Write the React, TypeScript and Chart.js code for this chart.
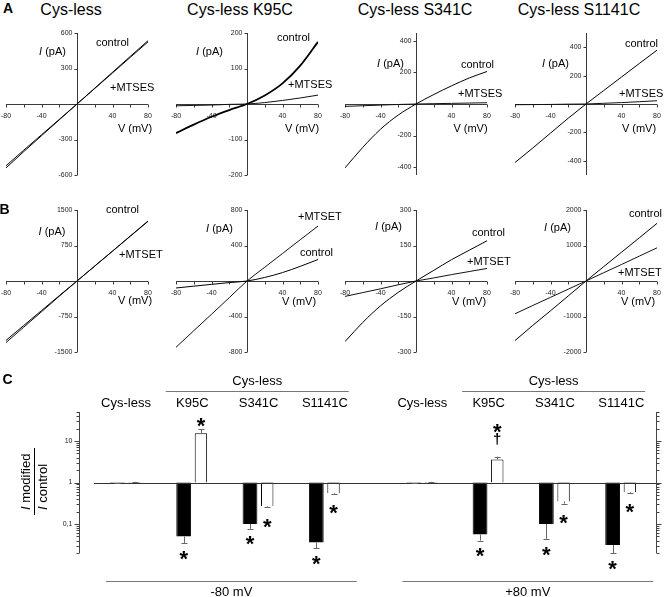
import React, { useEffect, useRef } from 'react';
import { Chart, registerables } from 'chart.js';

Chart.register(...registerables);

const SANS = "'Liberation Sans', Arial, Helvetica, sans-serif";
const NARROW = "'Liberation Sans Narrow', 'Arial Narrow', 'Liberation Sans', Arial, sans-serif";

// ---------------- I–V data (current in pA vs voltage in mV) ----------------
const voltages = [-80, -60, -40, -20, 0, 20, 40, 60, 80];
const voltageTickLabels = [-80, -40, 40, 80];
const panelTitles = ['Cys-less', 'Cys-less K95C', 'Cys-less S341C', 'Cys-less S1141C'];

// Row A: control vs +MTSES
const mtsesControlCysLess = [-540, -402, -268, -134, 0, 134, 268, 402, 535];
const mtsesCysLess = [-522, -390, -260, -130, 0, 131, 262, 394, 525];
const mtsesControlK95C = [-82, -58, -36, -17, 0, 24, 58, 108, 175];
const mtsesK95C = [-5, -4, -3, -1, 0, 4, 10, 17, 25];
const mtsesControlS341C = [-405, -275, -160, -70, 0, 60, 115, 165, 206];
const mtsesS341C = [-15, -11, -7, -3, 0, 2, 4, 6, 8];
const mtsesControlS1141C = [-412, -310, -205, -100, 0, 95, 190, 285, 379];
const mtsesS1141C = [-5, -4, -3, -1, 0, 5, 10, 16, 23];

// Row B: control vs +MTSET
const mtsetControlCysLess = [-1255, -940, -625, -310, 0, 315, 632, 950, 1267];
const mtsetCysLess = [-1300, -975, -650, -322, 0, 316, 630, 945, 1260];
const mtsetControlK95C = [-79, -58, -38, -18, 0, 40, 95, 165, 242];
const mtsetK95C = [-747, -560, -375, -188, 0, 155, 310, 465, 619];
const mtsetControlS341C = [-256, -175, -105, -48, 0, 45, 90, 130, 170];
const mtsetS341C = [-65, -49, -33, -16, 0, 13, 27, 40, 53];
const mtsetControlS1141C = [-1678, -1250, -840, -420, 0, 405, 810, 1215, 1624];
const mtsetS1141C = [-923, -690, -460, -230, 0, 235, 465, 700, 934];

const rangeA = [600, 200, 450, 500];
const ticksA = [[-600, -300, 300, 600], [-200, -100, 100, 200], [-400, -200, 200, 400], [-400, -200, 200, 400]];
const rangeB = [1500, 800, 300, 2000];
const ticksB = [[-1500, -750, 750, 1500], [-800, -400, 400, 800], [-300, -150, 150, 300], [-2000, -1000, 1000, 2000]];

// ---------------- Panel C data (I modified / I control) ----------------
const barConstructs = ['Cys-less', 'K95C', 'S341C', 'S1141C'];
const headerLabel = 'Cys-less';
const voltageGroups = ['-80 mV', '+80 mV'];
const mtsesNeg80 = [0.97, 0.05, 0.10, 0.036];
const mtsesNeg80Err = [0.96, 0.035, 0.077, 0.026];
const mtsetNeg80 = [1.03, 15.4, 0.27, 0.56];
const mtsetNeg80Err = [1.04, 19.2, 0.26, 0.54];
const mtsesPos80 = [0.97, 0.056, 0.10, 0.031];
const mtsesPos80Err = [0.96, 0.04, 0.044, 0.02];
const mtsetPos80 = [1.03, 3.6, 0.35, 0.59];
const mtsetPos80Err = [1.04, 4.2, 0.31, 0.57];
const mtsesNeg80Sig = ['', '*', '*', '*'];
const mtsetNeg80Sig = ['', '*', '*', '*'];
const mtsesPos80Sig = ['', '*', '*', '*'];
const mtsetPos80Sig = ['', '*†', '*', '*'];
const ratioTickValues = [0.1, 1, 10];
const ratioTickLabels = ['0,1', '1', '10'];

// ---------------- Layout ----------------
const PANEL_X0 = [77, 247, 416, 586];
const ROW_Y0 = [104, 281];
const HALF = 71;
const PAD = { left: 12, right: 6, top: 4, bottom: 18 };

const ivAxes = (yTicks: number[]) => ({
  id: 'ivAxes',
  beforeDatasetsDraw(chart: any) {
    const { ctx, scales } = chart;
    const x = scales.x, y = scales.y;
    const x0 = Math.round(x.getPixelForValue(0)) + 0.5;
    const y0 = Math.round(y.getPixelForValue(0)) + 0.5;
    ctx.save();
    ctx.strokeStyle = '#3a3a3a';
    ctx.lineWidth = 1;
    ctx.beginPath();
    ctx.moveTo(x0, y.top);
    ctx.lineTo(x0, y.bottom);
    ctx.moveTo(x.left, y0);
    ctx.lineTo(x.right, y0);
    voltages.forEach((v) => {
      if (v === 0) return;
      const px = Math.round(x.getPixelForValue(v)) + 0.5;
      ctx.moveTo(px, y0);
      ctx.lineTo(px, y0 + 3);
    });
    yTicks.forEach((t) => {
      const py = Math.round(y.getPixelForValue(t)) + 0.5;
      ctx.moveTo(x0 - 3, py);
      ctx.lineTo(x0, py);
    });
    ctx.stroke();
    ctx.fillStyle = '#222';
    ctx.font = `7px ${NARROW}`;
    ctx.textAlign = 'right';
    ctx.textBaseline = 'middle';
    yTicks.forEach((t) => ctx.fillText(String(t), x0 - 5, y.getPixelForValue(t)));
    ctx.textAlign = 'center';
    ctx.textBaseline = 'top';
    voltageTickLabels.forEach((t) => ctx.fillText(String(t), x.getPixelForValue(t), y0 + 8));
    ctx.restore();
  },
});

function IVPanel({ control, modified, range, ticks, x0, y0, controlWidth = 1 }: any) {
  const ref = useRef<HTMLCanvasElement>(null);
  useEffect(() => {
    const chart = new Chart(ref.current as HTMLCanvasElement, {
      type: 'line',
      data: {
        datasets: [
          {
            data: voltages.map((v, i) => ({ x: v, y: control[i] })),
            borderColor: '#000', borderWidth: controlWidth, pointRadius: 0,
            cubicInterpolationMode: 'monotone', fill: false,
          },
          {
            data: voltages.map((v, i) => ({ x: v, y: modified[i] })),
            borderColor: '#111', borderWidth: 1, pointRadius: 0,
            cubicInterpolationMode: 'monotone', fill: false,
          },
        ],
      } as any,
      options: {
        animation: false, responsive: false, maintainAspectRatio: false, events: [],
        layout: { padding: PAD },
        plugins: { legend: { display: false }, tooltip: { enabled: false } },
        scales: {
          x: { type: 'linear', min: -80, max: 80, display: false },
          y: { type: 'linear', min: -range, max: range, display: false },
        },
      } as any,
      plugins: [ivAxes(ticks)],
    });
    return () => chart.destroy();
  }, []);
  const w = 2 * HALF + PAD.left + PAD.right;
  const h = 2 * HALF + PAD.top + PAD.bottom;
  return (
    <canvas ref={ref} width={w} height={h}
      style={{ position: 'absolute', left: x0 - HALF - PAD.left, top: y0 - HALF - PAD.top, width: w, height: h }} />
  );
}

function drawStar(ctx: any, cx: number, cy: number) {
  const size = 22;
  ctx.font = `bold ${size}px ${SANS}`;
  ctx.textAlign = 'center';
  ctx.textBaseline = 'alphabetic';
  ctx.fillText('*', cx, cy + 0.58 * size);
}
function drawDagger(ctx: any, cx: number, cy: number) {
  const size = 15;
  ctx.font = `bold ${size}px ${SANS}`;
  ctx.textAlign = 'center';
  ctx.textBaseline = 'alphabetic';
  ctx.fillText('†', cx, cy + 0.27 * size);
}

function RatioChart() {
  const ref = useRef<HTMLCanvasElement>(null);
  useEffect(() => {
    const GROUP_OFFSET = 4.47;
    const pos = (g: number, k: number) => k + g * GROUP_OFFSET;
    const xs = [...barConstructs.map((_, k) => pos(0, k)), ...barConstructs.map((_, k) => pos(1, k))];
    const ses = [...mtsesNeg80, ...mtsesPos80];
    const set = [...mtsetNeg80, ...mtsetPos80];
    const sesErr = [...mtsesNeg80Err, ...mtsesPos80Err];
    const setErr = [...mtsetNeg80Err, ...mtsetPos80Err];
    const sesSig = [...mtsesNeg80Sig, ...mtsesPos80Sig];
    const setSig = [...mtsetNeg80Sig, ...mtsetPos80Sig];

    const decor = {
      id: 'ratioDecor',
      beforeDatasetsDraw(chart: any) {
        const { ctx, chartArea, scales } = chart;
        const y = scales.y;
        ctx.save();
        ctx.strokeStyle = '#444';
        ctx.lineWidth = 1;
        const lx = Math.round(chartArea.left) + 0.5;
        const rx = Math.round(chartArea.right) + 0.5;
        ctx.beginPath();
        ctx.moveTo(lx, chartArea.top); ctx.lineTo(lx, chartArea.bottom);
        ctx.moveTo(rx, chartArea.top); ctx.lineTo(rx, chartArea.bottom);
        for (let d = -2; d <= 1; d++) {
          for (let m = 1; m <= 9; m++) {
            const v = m * Math.pow(10, d);
            if (v < y.min - 1e-9 || v > y.max + 1e-9) continue;
            const py = Math.round(y.getPixelForValue(v)) + 0.5;
            const len = m === 1 ? 5 : 3;
            ctx.moveTo(lx - len, py); ctx.lineTo(lx, py);
            ctx.moveTo(rx, py); ctx.lineTo(rx + len, py);
          }
        }
        ctx.stroke();
        ctx.fillStyle = '#222';
        ctx.font = `7px ${NARROW}`;
        ctx.textAlign = 'right';
        ctx.textBaseline = 'middle';
        ratioTickValues.forEach((v, i) => ctx.fillText(ratioTickLabels[i], lx - 7, y.getPixelForValue(v)));
        ctx.restore();
      },
      afterDatasetsDraw(chart: any) {
        const { ctx, chartArea, scales } = chart;
        const x = scales.x, y = scales.y;
        ctx.save();
        // baseline at ratio = 1
        const by = Math.round(y.getPixelForValue(1)) + 0.5;
        ctx.strokeStyle = '#333';
        ctx.lineWidth = 1;
        ctx.beginPath();
        ctx.moveTo(chartArea.left + 15, by); ctx.lineTo(chartArea.right, by);
        ctx.stroke();
        // error bars + significance
        const sets = [
          { di: 0, vals: ses, errs: sesErr, sigs: sesSig },
          { di: 1, vals: set, errs: setErr, sigs: setSig },
        ];
        sets.forEach(({ di, vals, errs, sigs }) => {
          const meta = chart.getDatasetMeta(di);
          meta.data.forEach((bar: any, i: number) => {
            const bx = Math.round(bar.x) + 0.5;
            const yEnd = y.getPixelForValue(vals[i]);
            const yErr = y.getPixelForValue(errs[i]);
            ctx.strokeStyle = '#666';
            ctx.beginPath();
            ctx.moveTo(bx, yEnd); ctx.lineTo(bx, yErr);
            ctx.moveTo(bx - 3, Math.round(yErr) + 0.5); ctx.lineTo(bx + 3, Math.round(yErr) + 0.5);
            ctx.stroke();
            ctx.fillStyle = '#000';
            const s = sigs[i];
            if (!s) return;
            if (vals[i] > 1) {
              if (s.includes('†')) {
                drawDagger(ctx, bar.x, yErr - 17);
                drawStar(ctx, bar.x, yErr - 30);
              } else {
                drawStar(ctx, bar.x, yErr - 9);
              }
            } else {
              drawStar(ctx, bar.x, yErr + (di === 0 ? 10 : 14));
            }
          });
        });
        // labels, headers, brackets
        ctx.fillStyle = '#000';
        ctx.strokeStyle = '#777';
        ctx.font = `13px ${SANS}`;
        ctx.textAlign = 'center';
        ctx.textBaseline = 'middle';
        voltageGroups.forEach((vg, g) => {
          barConstructs.forEach((c, k) => ctx.fillText(c, x.getPixelForValue(pos(g, k)), 33));
          const h0 = x.getPixelForValue(pos(g, 1) - 0.4);
          const h1 = x.getPixelForValue(pos(g, 3) + 0.36);
          ctx.beginPath();
          ctx.moveTo(h0, 21.5); ctx.lineTo(h1, 21.5);
          const b0 = x.getPixelForValue(pos(g, 0) - 0.3);
          const b1 = x.getPixelForValue(pos(g, 3) + 0.48);
          ctx.moveTo(b0, 211.5); ctx.lineTo(b1, 211.5);
          ctx.stroke();
          ctx.fillText(headerLabel, (h0 + h1) / 2, 11);
          ctx.fillText(vg, (b0 + b1) / 2, 222);
        });
        // y-axis title: I modified / I control
        ctx.translate(34, 111.5);
        ctx.rotate(-Math.PI / 2);
        ctx.strokeStyle = '#000';
        ctx.beginPath();
        ctx.moveTo(-33.5, 0.5); ctx.lineTo(33.5, 0.5);
        ctx.stroke();
        ctx.textAlign = 'left';
        ctx.textBaseline = 'alphabetic';
        const drawFrac = (rest: string, by2: number) => {
          ctx.font = `italic 13px ${SANS}`;
          ctx.fillText('I', -28.5, by2);
          const w = ctx.measureText('I').width;
          ctx.font = `13px ${SANS}`;
          ctx.fillText(' ' + rest, -28.5 + w, by2);
        };
        drawFrac('modified', -4);
        drawFrac('control', 13);
        ctx.restore();
      },
    };

    const chart = new Chart(ref.current as HTMLCanvasElement, {
      type: 'bar',
      data: {
        datasets: [
          {
            label: '+MTSES', data: xs.map((xv, i) => ({ x: xv, y: [1, ses[i]] })),
            backgroundColor: '#000', borderColor: '#000', borderWidth: 1,
            categoryPercentage: 0.52, barPercentage: 0.86,
          },
          {
            label: '+MTSET', data: xs.map((xv, i) => ({ x: xv, y: [1, set[i]] })),
            backgroundColor: '#fff', borderColor: '#000', borderWidth: 1,
            categoryPercentage: 0.52, barPercentage: 0.72,
          },
        ],
      } as any,
      options: {
        animation: false, responsive: false, maintainAspectRatio: false, events: [],
        layout: { padding: { left: 79, right: 8, top: 42, bottom: 44 } },
        plugins: { legend: { display: false }, tooltip: { enabled: false } },
        scales: {
          x: {
            type: 'linear', min: -0.709, max: 7.994, display: false, offset: false,
            grid: { offset: false },
            afterBuildTicks: (ax: any) => { ax.ticks = xs.map((v) => ({ value: v })); },
          },
          y: { type: 'logarithmic', min: 0.02, max: 50, display: false },
        },
      } as any,
      plugins: [decor],
    });
    return () => chart.destroy();
  }, []);
  return (
    <canvas ref={ref} width={664} height={227}
      style={{ position: 'absolute', left: 0, top: 370, width: 664, height: 227 }} />
  );
}

function T({ x, y, children, size = 11, bold = false, center = false }: any) {
  return (
    <div style={{
      position: 'absolute', left: x, top: y, transform: `translate(${center ? '-50%' : '0'}, -50%)`,
      fontSize: size, fontWeight: bold ? 700 : 400, whiteSpace: 'nowrap', lineHeight: 1,
    }}>{children}</div>
  );
}

const titleCenters = [[71, 9.5], [240, 9.5], [415, 9.5], [579, 9.5]];
const aControlPos = [[96, 41.5], [277, 37], [461, 64], [625, 43]];
const aModPos = [[110, 87], [288, 84], [458, 93], [619, 93]];
const bControlPos = [[106, 209], [300, 252], [472, 231.5], [629, 212.5]];
const bModPos = [[119, 253.5], [298, 216], [467, 261], [618, 271.5]];
const aIPos = [[52.5, 51], [209.5, 51], [390.5, 62.5], [555.5, 62.5]];
const bIPos = [[52, 231], [219.5, 227.5], [388.5, 226], [557.5, 226.5]];
const aVPos = [[135, 127.5], [302, 127.5], [470.5, 127.5], [639, 127.5]];
const bVPos = [[135, 300], [299, 301], [469, 301], [638, 301]];

export default function App() {
  const aControls = [mtsesControlCysLess, mtsesControlK95C, mtsesControlS341C, mtsesControlS1141C];
  const aMods = [mtsesCysLess, mtsesK95C, mtsesS341C, mtsesS1141C];
  const bControls = [mtsetControlCysLess, mtsetControlK95C, mtsetControlS341C, mtsetControlS1141C];
  const bMods = [mtsetCysLess, mtsetK95C, mtsetS341C, mtsetS1141C];
  return (
    <div style={{
      position: 'fixed', left: 0, top: 0, width: 664, height: 597, background: '#fff',
      overflow: 'hidden', fontFamily: SANS, color: '#000',
    }}>
      {PANEL_X0.map((x0, i) => (
        <IVPanel key={'a' + i} control={aControls[i]} modified={aMods[i]} range={rangeA[i]} ticks={ticksA[i]}
          x0={x0} y0={ROW_Y0[0]} controlWidth={i === 1 ? 1.8 : 1} />
      ))}
      {PANEL_X0.map((x0, i) => (
        <IVPanel key={'b' + i} control={bControls[i]} modified={bMods[i]} range={rangeB[i]} ticks={ticksB[i]}
          x0={x0} y0={ROW_Y0[1]} />
      ))}
      <RatioChart />

      <T x={8} y={8} size={14} bold center>A</T>
      <T x={4.5} y={209} size={14} bold center>B</T>
      <T x={7.5} y={379} size={14} bold center>C</T>
      {panelTitles.map((t, i) => (
        <T key={'t' + i} x={titleCenters[i][0]} y={titleCenters[i][1]} size={16} center>{t}</T>
      ))}
      {aControlPos.map((p, i) => <T key={'ac' + i} x={p[0]} y={p[1]}>control</T>)}
      {aModPos.map((p, i) => <T key={'am' + i} x={p[0]} y={p[1]}>+MTSES</T>)}
      {bControlPos.map((p, i) => <T key={'bc' + i} x={p[0]} y={p[1]}>control</T>)}
      {bModPos.map((p, i) => <T key={'bm' + i} x={p[0]} y={p[1]}>+MTSET</T>)}
      {[...aIPos, ...bIPos].map((p, i) => (
        <T key={'i' + i} x={p[0]} y={p[1]} center><i>I</i> (pA)</T>
      ))}
      {[...aVPos, ...bVPos].map((p, i) => (
        <T key={'v' + i} x={p[0]} y={p[1]} center>V (mV)</T>
      ))}
    </div>
  );
}
